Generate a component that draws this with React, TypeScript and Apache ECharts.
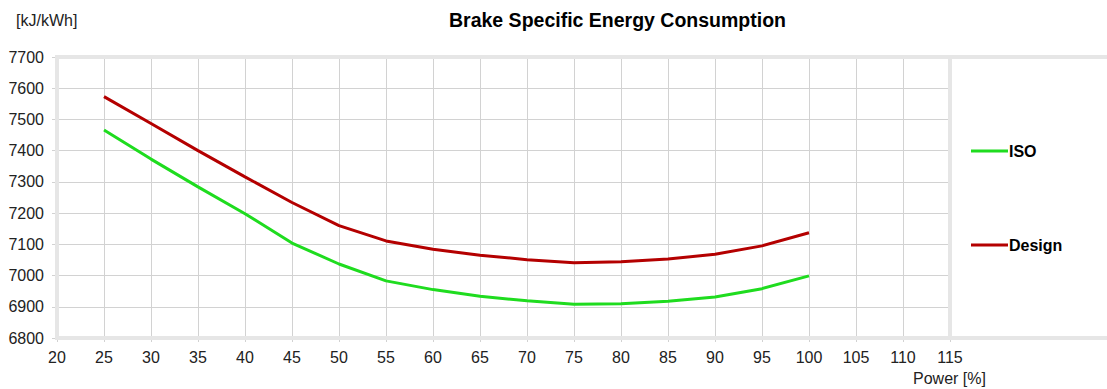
import React, { useEffect, useRef } from "react";
import * as echarts from "echarts";

// Engine load in percent of rated power
const powerPct = [25, 30, 35, 40, 45, 50, 55, 60, 65, 70, 75, 80, 85, 90, 95, 100];

// Brake specific energy consumption, kJ/kWh
const isoBsec = [7466, 7373, 7284, 7198, 7104, 7037, 6983, 6955, 6934, 6919, 6908, 6910, 6918, 6931, 6958, 6999];
const designBsec = [7573, 7487, 7400, 7316, 7234, 7160, 7111, 7084, 7065, 7051, 7041, 7044, 7053, 7068, 7095, 7137];

const chartTitle = "Brake Specific Energy Consumption";
const yUnit = "[kJ/kWh]";
const xUnit = "Power [%]";
const seriesNames = ["ISO", "Design"];
const seriesColors = ["#1fdc1f", "#b40000"];

const FONT = 'Arial, "Liberation Sans", Helvetica, sans-serif';
const FRAME = "#e6e6e6";
const GRIDLINE = "#d2d2d2";

const W = 1107;
const H = 389;
const G_LEFT = 57;
const G_TOP = 57;
const G_RIGHT_X = 950;
const G_BOTTOM_Y = 338;

export default function App() {
  const ref = useRef<HTMLDivElement>(null);

  useEffect(() => {
    document.body.style.margin = "0";
    if (!ref.current) return;
    const chart = echarts.init(ref.current, undefined, { renderer: "svg" });

    const pairs = (ys: number[]) => powerPct.map((x, i) => [x, ys[i]]);

    chart.setOption({
      animation: false,
      backgroundColor: "#ffffff",
      textStyle: { fontFamily: FONT },
      title: {
        text: chartTitle,
        left: 444,
        top: 5,
        textStyle: { fontFamily: FONT, fontSize: 19.5, fontWeight: "bold", color: "#000" },
      },
      legend: {
        orient: "vertical",
        left: 966,
        top: 138,
        icon: "rect",
        itemWidth: 37,
        itemHeight: 3,
        itemGap: 78,
        data: seriesNames,
        textStyle: {
          fontFamily: FONT,
          fontSize: 16,
          fontWeight: "bold",
          color: "#000",
          padding: [0, 0, 0, -4],
        },
      },
      grid: {
        left: G_LEFT,
        top: G_TOP,
        width: G_RIGHT_X - G_LEFT,
        height: G_BOTTOM_Y - G_TOP,
        show: false,
      },
      xAxis: {
        type: "value",
        min: 20,
        max: 115,
        interval: 5,
        axisLine: { show: false },
        axisTick: { show: true, length: 4, lineStyle: { color: GRIDLINE } },
        axisLabel: { fontFamily: FONT, fontSize: 16, color: "#222", margin: 11 },
        splitLine: { show: true, showMinLine: false, showMaxLine: false, lineStyle: { color: GRIDLINE, width: 1 } },
      },
      yAxis: {
        type: "value",
        min: 6800,
        max: 7700,
        interval: 100,
        axisLine: { show: false },
        axisTick: { show: true, length: 5, lineStyle: { color: GRIDLINE } },
        axisLabel: {
          fontFamily: FONT,
          fontSize: 16,
          color: "#222",
          margin: 13,
          formatter: (v: number) => String(v),
        },
        splitLine: { show: true, showMinLine: false, showMaxLine: false, lineStyle: { color: GRIDLINE, width: 1 } },
      },
      graphic: [
        {
          type: "rect",
          z: 50,
          silent: true,
          shape: { x: G_LEFT, y: G_TOP, width: W - G_LEFT + 4, height: G_BOTTOM_Y - G_TOP },
          style: { fill: "none", stroke: FRAME, lineWidth: 4 },
        },
        {
          type: "line",
          z: 50,
          silent: true,
          shape: { x1: G_RIGHT_X, y1: G_TOP, x2: G_RIGHT_X, y2: G_BOTTOM_Y },
          style: { stroke: FRAME, lineWidth: 4 },
        },
        {
          type: "text",
          left: 16,
          top: 12,
          style: { text: yUnit, fontFamily: FONT, fontSize: 16, fill: "#222" },
        },
        {
          type: "text",
          left: 913,
          top: 370,
          style: { text: xUnit, fontFamily: FONT, fontSize: 16, fill: "#222" },
        },
      ],
      series: seriesNames.map((name, k) => ({
        name,
        type: "line",
        data: pairs(k === 0 ? isoBsec : designBsec),
        symbol: "none",
        color: seriesColors[k],
        lineStyle: { width: 3, color: seriesColors[k] },
        z: 3,
      })),
    });

    return () => chart.dispose();
  }, []);

  return (
    <div
      ref={ref}
      style={{ position: "absolute", left: 0, top: 0, width: W, height: H }}
    />
  );
}
